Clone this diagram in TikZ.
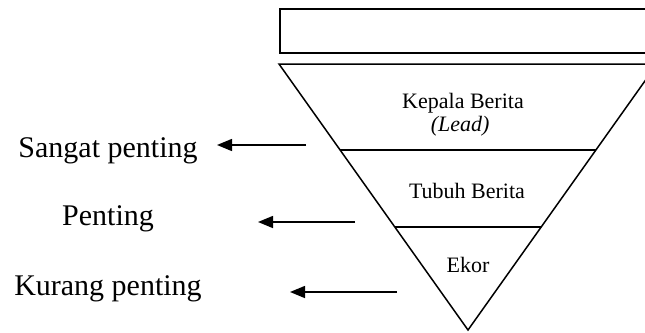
\documentclass[tikz,border=0pt]{standalone}
\usepackage{fontspec}
\setmainfont{Liberation Serif}
\usetikzlibrary{arrows.meta,calc}

\begin{document}
\begin{tikzpicture}[x=1pt,y=-1pt,line width=1.5pt,
	>={Triangle[length=15pt,width=12pt]}]
	\tikzstyle{side text}=[font=\fontsize{30}{36}\selectfont,anchor=base,inner sep=0pt]
	\tikzstyle{inner text}=[font=\fontsize{22}{26}\selectfont,anchor=base,inner sep=0pt]
	
	\useasboundingbox (0,0) rectangle (645,332);
	\clip (0,0) rectangle (645,332);
	
	\draw (280,9) rectangle (660,53);
	
	\coordinate (tl) at (279,64);
	\coordinate (tr) at (657,64);
	\coordinate (ap) at (468,330);
	\draw (tl) -- (tr) -- (ap) -- cycle;
	\draw ($(tl)!0.323!(ap)$) -- ($(tr)!0.323!(ap)$);
	\draw ($(tl)!0.613!(ap)$) -- ($(tr)!0.613!(ap)$);
	
	\node[inner text] (kepala) at (463,108) {Kepala Berita};
	\node[inner text,anchor=base west] (lead) at (430,131) {\itshape (Lead)};
	\node[inner text] (tubuh) at (467,198) {Tubuh Berita};
	\node[inner text] (ekor) at (468,272) {Ekor};
	
	\node[side text] (sangat) at (108,157) {Sangat penting};
	\node[side text] (penting) at (108,225) {Penting};
	\node[side text] (kurang) at (108,295) {Kurang penting};
	
	\coordinate (a1) at (306,145);
	\coordinate (b1) at (217,145);
	\coordinate (a2) at (355,222);
	\coordinate (b2) at (258,222);
	\coordinate (a3) at (397,292);
	\coordinate (b3) at (290,292);
	
	\draw[->] (a1) -- (b1);
	\draw[->] (a2) -- (b2);
	\draw[->] (a3) -- (b3);
\end{tikzpicture}
\end{document}
